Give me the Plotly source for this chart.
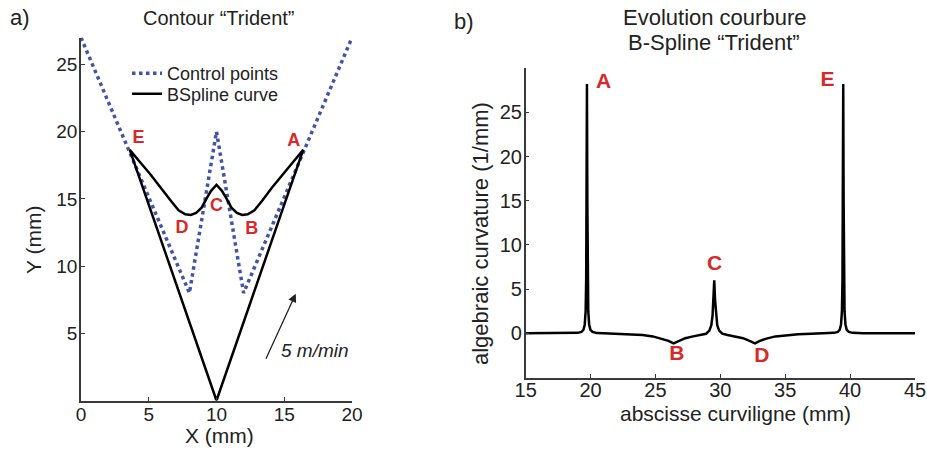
import plotly.graph_objects as go

# ---------- data : panel a) ----------
ctrl_x = [0, 8, 10, 12, 20]
ctrl_y = [27, 8, 20, 8, 27]

curve_x = [10, 16.4, 15.7, 14.9, 14.1, 13.4, 12.8, 12.3, 11.9, 11.5, 11.1, 10.7, 10.4, 10.0,
           9.6, 9.3, 8.9, 8.5, 8.1, 7.7, 7.2, 6.6, 5.9, 5.1, 4.3, 3.6, 10]
curve_y = [0, 18.65, 17.8, 16.85, 15.85, 14.9, 14.15, 13.85, 13.8, 13.95, 14.35, 15.1, 15.6, 16.05,
           15.6, 15.1, 14.35, 13.95, 13.8, 13.85, 14.15, 14.9, 15.85, 16.85, 17.8, 18.65, 0]

pts_a_labels = ["E", "A", "C", "D", "B"]
pts_a_x = [4.25, 15.7, 10.0, 7.45, 12.6]
pts_a_y = [19.5, 19.25, 14.4, 12.8, 12.75]

arrow_from = (13.6, 3.0)
arrow_to = (15.85, 7.95)
speed_label = "5 m/min"
speed_pos = (17.3, 3.75)

# ---------- data : panel b) ----------
s_mm = [15, 17, 19.0, 19.3, 19.45, 19.55, 19.62, 19.66, 19.69, 19.72, 19.75, 19.78, 19.82, 19.89,
        19.99, 20.15, 20.5, 21, 22, 23, 24, 24.8, 25.5, 26.0, 26.4, 26.8, 27.3, 27.9, 28.5, 28.9,
        29.15, 29.3, 29.4, 29.47, 29.53, 29.59, 29.66, 29.76, 29.91, 30.15, 30.55, 31.15, 31.75,
        32.25, 32.67, 33.05, 33.55, 34.25, 35.05, 36.0, 37.0, 38.0, 38.75, 39.05, 39.2, 39.3,
        39.37, 39.41, 39.44, 39.47, 39.5, 39.53, 39.57, 39.64, 39.74, 39.9, 40.2, 41, 43, 45]
k_inv_mm = [0, 0, 0.05, 0.15, 0.4, 1.0, 2.5, 6, 15, 28.2, 15, 6, 2.5, 1.0,
            0.4, 0.15, 0.02, 0, -0.05, -0.1, -0.2, -0.35, -0.6, -0.85, -1.13, -0.85, -0.55, -0.35, -0.2, -0.05,
            0.3, 0.9, 2.0, 3.8, 6.0, 3.8, 2.0, 0.9, 0.3, -0.05, -0.2, -0.35, -0.55,
            -0.85, -1.13, -0.85, -0.6, -0.35, -0.2, -0.1, -0.05, 0, 0.05, 0.15, 0.4, 1.0,
            2.5, 6, 15, 28.2, 15, 6, 2.5, 1.0, 0.4, 0.15, 0.05, 0, 0, 0]

pts_b_labels = ["A", "E", "C", "B", "D"]
pts_b_x = [21.0, 38.25, 29.55, 26.65, 33.2]
pts_b_y = [28.3, 28.6, 7.7, -2.45, -2.6]

FONT = "Liberation Sans, Arial, sans-serif"
RED = "#D62A2A"
AX = "#3a3a3a"
W, H = 927, 452

fig = go.Figure()

fig.add_trace(go.Scatter(x=ctrl_x, y=ctrl_y, mode="lines", name="Control points",
                         line=dict(color="#4353A8", width=3.5, dash="dot"),
                         xaxis="x", yaxis="y", legend="legend"))
fig.add_trace(go.Scatter(x=curve_x, y=curve_y, mode="lines", name="BSpline curve",
                         line=dict(color="black", width=2.5), xaxis="x", yaxis="y",
                         legend="legend2"))
fig.add_trace(go.Scatter(x=pts_a_x, y=pts_a_y, mode="text", text=pts_a_labels,
                         textfont=dict(color=RED, size=18, family=FONT, weight="bold"),
                         showlegend=False, hoverinfo="skip", xaxis="x", yaxis="y"))

fig.add_trace(go.Scatter(x=s_mm, y=k_inv_mm, mode="lines", showlegend=False,
                         line=dict(color="black", width=2.5), xaxis="x2", yaxis="y2"))
fig.add_trace(go.Scatter(x=pts_b_x, y=pts_b_y, mode="text", text=pts_b_labels,
                         textfont=dict(color=RED, size=21, family=FONT, weight="bold"),
                         showlegend=False, hoverinfo="skip", xaxis="x2", yaxis="y2"))

def px_x(p):
    return p / W

def px_y(p):
    return 1 - p / H

axis_common = dict(showline=True, linecolor=AX, linewidth=1.5, ticks="inside", ticklen=4,
                   tickcolor=AX, showgrid=False, zeroline=False, mirror=False, automargin=False)

legend_common = dict(xanchor="left", yanchor="middle", bgcolor="rgba(0,0,0,0)",
                     font=dict(size=18, color="#222"), borderwidth=0)

fig.update_layout(
    width=W, height=H, margin=dict(l=0, r=0, t=0, b=0, pad=0),
    paper_bgcolor="white", plot_bgcolor="white",
    font=dict(family=FONT, color="#222"),
    xaxis=dict(domain=[px_x(81), px_x(352)], range=[0, 20], tickvals=[0, 5, 10, 15, 20],
               anchor="y", tickfont=dict(size=19), ticklabelstandoff=-4, **axis_common),
    yaxis=dict(domain=[px_y(400.5), px_y(37.6)], range=[0, 27], tickvals=[5, 10, 15, 20, 25],
               anchor="x", tickfont=dict(size=19), ticklabelstandoff=-2, **axis_common),
    xaxis2=dict(domain=[px_x(525.7), px_x(915)], range=[15, 45], tickvals=[15, 20, 25, 30, 35, 40, 45],
                anchor="y2", tickfont=dict(size=20), ticklabelstandoff=-6, **axis_common),
    yaxis2=dict(domain=[px_y(377.5), px_y(68.1)], range=[-5, 30], tickvals=[0, 5, 10, 15, 20, 25],
                anchor="x2", tickfont=dict(size=20), ticklabelstandoff=-2, **axis_common),
    legend=dict(x=px_x(127), y=px_y(73.5), **legend_common),
    legend2=dict(x=px_x(127), y=px_y(94), **legend_common),
    showlegend=True,
)

ann = []
ann.append(dict(text="a)", x=px_x(8), y=px_y(18), xref="paper", yref="paper",
                xanchor="left", yanchor="middle", showarrow=False, font=dict(size=22)))
ann.append(dict(text="Contour \u201cTrident\u201d", x=px_x(219), y=px_y(18), xref="paper", yref="paper",
                xanchor="center", yanchor="middle", showarrow=False, font=dict(size=20)))
ann.append(dict(text="b)", x=px_x(452), y=px_y(21), xref="paper", yref="paper",
                xanchor="left", yanchor="middle", showarrow=False, font=dict(size=22)))
ann.append(dict(text="Evolution courbure", x=px_x(714), y=px_y(18), xref="paper", yref="paper",
                xanchor="center", yanchor="middle", showarrow=False, font=dict(size=22)))
ann.append(dict(text="B-Spline \u201cTrident\u201d", x=px_x(714), y=px_y(42), xref="paper", yref="paper",
                xanchor="center", yanchor="middle", showarrow=False, font=dict(size=22)))
ann.append(dict(text="Y (mm)", x=px_x(33), y=px_y(240), xref="paper", yref="paper", textangle=-90,
                xanchor="center", yanchor="middle", showarrow=False, font=dict(size=21)))
ann.append(dict(text="X (mm)", x=px_x(219), y=px_y(435), xref="paper", yref="paper",
                xanchor="center", yanchor="middle", showarrow=False, font=dict(size=21)))
ann.append(dict(text="algebraic curvature (1/mm)", x=px_x(480), y=px_y(233), xref="paper", yref="paper",
                textangle=-90, xanchor="center", yanchor="middle", showarrow=False, font=dict(size=22)))
ann.append(dict(text="abscisse curviligne (mm)", x=px_x(735), y=px_y(413), xref="paper", yref="paper",
                xanchor="center", yanchor="middle", showarrow=False, font=dict(size=21)))
ann.append(dict(text="<i>" + speed_label + "</i>", x=speed_pos[0], y=speed_pos[1], xref="x", yref="y",
                xanchor="center", yanchor="middle", showarrow=False, font=dict(size=19)))
ann.append(dict(x=arrow_to[0], y=arrow_to[1], ax=arrow_from[0], ay=arrow_from[1],
                xref="x", yref="y", axref="x", ayref="y", text="", showarrow=True,
                arrowhead=2, arrowsize=1.3, arrowwidth=1.3, arrowcolor="#222"))
fig.update_layout(annotations=ann)

fig.write_html("out.html", config={"displayModeBar": False},
               post_script="document.body.style.margin='0px';")
